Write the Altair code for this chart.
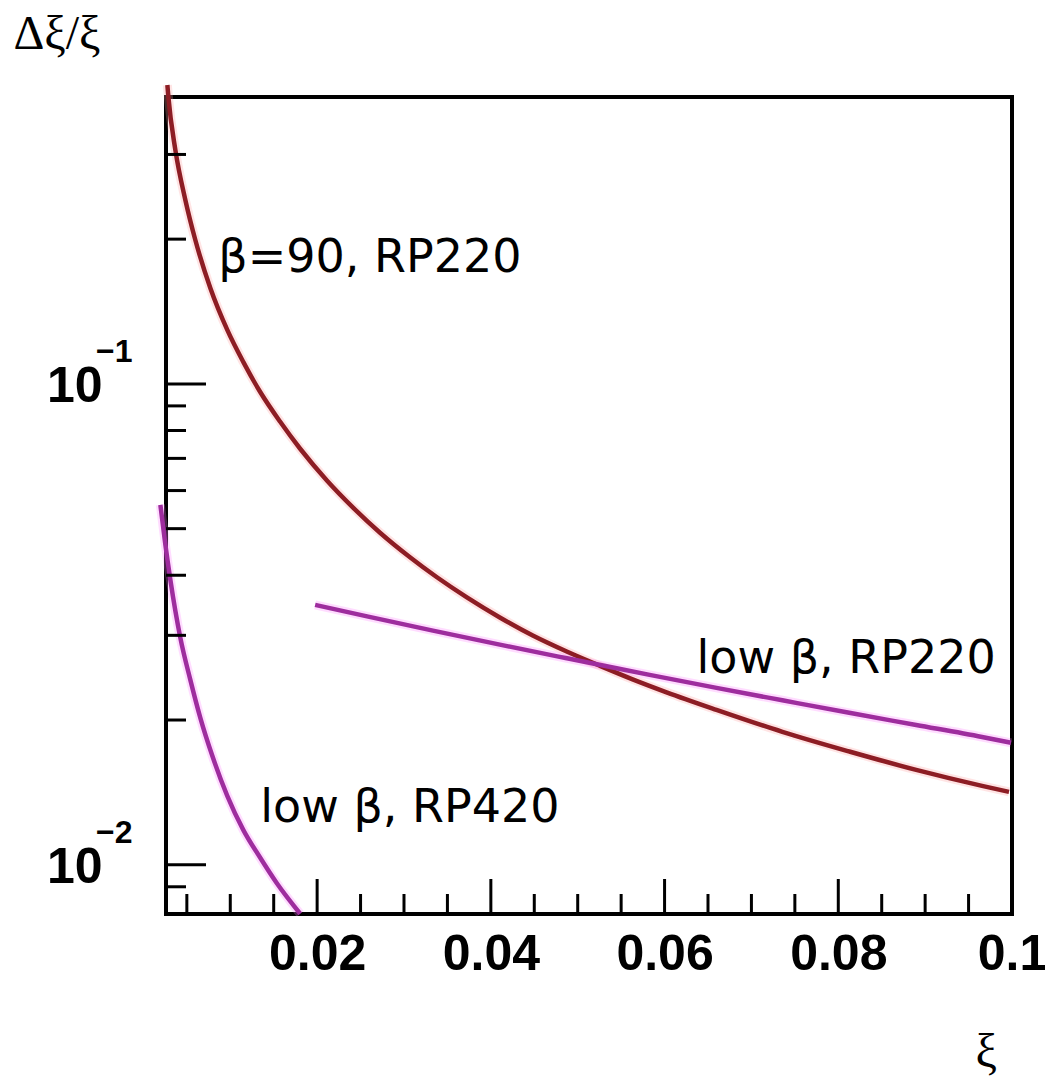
import altair as alt
import pandas as pd

# ---- data ----
red_x = [0.002759, 0.002874, 0.003678, 0.004828, 0.005977, 0.007701, 0.009655, 0.011494,
         0.013448, 0.015747, 0.018046, 0.021149, 0.024137, 0.027241, 0.030689, 0.033793,
         0.037241, 0.041034, 0.044827, 0.048735, 0.052528, 0.056321, 0.060229, 0.065976,
         0.073562, 0.081264, 0.088965, 0.096551, 0.099654]
red_y = [0.4183, 0.3951, 0.3065, 0.2413, 0.1992, 0.1583, 0.1295, 0.1111,
         0.0962, 0.0834, 0.0733, 0.0629, 0.0553, 0.04904, 0.04360, 0.03962,
         0.03598, 0.03268, 0.02997, 0.02776, 0.02594, 0.02430, 0.02284, 0.0210,
         0.0189, 0.0172, 0.01575, 0.01459, 0.01418]

mag220_x = [0.01977, 0.02575, 0.03333, 0.04103, 0.04874, 0.05448, 0.05828, 0.06598,
            0.07356, 0.08126, 0.08897, 0.09655, 0.09989]
mag220_y = [0.03471, 0.03285, 0.03069, 0.02869, 0.02688, 0.02562, 0.02483, 0.02333,
            0.02198, 0.02070, 0.01953, 0.01844, 0.01793]

mag420_x = [0.001954, 0.002529, 0.003103, 0.003678, 0.004253, 0.005402, 0.006552,
            0.007931, 0.009655, 0.011494, 0.013448, 0.015402, 0.018046]
mag420_y = [0.05603, 0.04627, 0.03914, 0.03373, 0.02964, 0.02424, 0.02021,
            0.01685, 0.01391, 0.01182, 0.01034, 0.00913, 0.00791]

label_text = ["β=90, RP220", "low β, RP220", "low β, RP420"]
label_x = [0.00862, 0.06368, 0.01345]
label_y = [0.171, 0.02507, 0.01228]

x_major = [0.02, 0.04, 0.06, 0.08]
x_minor = [0.005, 0.01, 0.015, 0.025, 0.03, 0.035, 0.045, 0.05, 0.055,
           0.065, 0.07, 0.075, 0.085, 0.09, 0.095]
x_labels = [0.02, 0.04, 0.06, 0.08, 0.1]
y_major = [0.1, 0.01]
y_minor = [0.009, 0.02, 0.03, 0.04, 0.05, 0.06, 0.07, 0.08, 0.09, 0.2, 0.3]
y_sup = ["−1", "−2"]

W, H = 846, 817

curves = pd.DataFrame(
    [{"x": a, "y": b, "curve": "red"} for a, b in zip(red_x, red_y)]
    + [{"x": a, "y": b, "curve": "m220"} for a, b in zip(mag220_x, mag220_y)]
    + [{"x": a, "y": b, "curve": "m420"} for a, b in zip(mag420_x, mag420_y)]
)
curves["order"] = range(len(curves))

xs = alt.Scale(domain=[0.0026, 0.1], nice=False, zero=False)
ys = alt.Scale(type="log", domain=[0.0079, 0.395], nice=False)
cscale_core = alt.Scale(domain=["red", "m220", "m420"], range=["#8d1d24", "#9e2d9e", "#9e2d9e"])
cscale_halo = alt.Scale(domain=["red", "m220", "m420"], range=["#ff9f9f", "#ff80ff", "#ff80ff"])

base = alt.Chart(curves)

halo = base.mark_line(strokeWidth=9, opacity=0.28, interpolate="monotone").encode(
    x=alt.X("x:Q", scale=xs,
            axis=alt.Axis(values=x_labels, format=".2~f", ticks=False, domain=False, grid=False,
                          labelFont="Liberation Sans", labelFontWeight="bold", labelFontSize=50,
                          labelColor="black", labelPadding=15, labelFlush=False,
                          title="ξ", titleFont="Liberation Serif", titleFontSize=48,
                          titleFontWeight="normal", titleColor="black", titleAnchor="start",
                          titleAlign="left", titleBaseline="alphabetic",
                          titleX=809, titleY=152)),
    y=alt.Y("y:Q", scale=ys,
            axis=alt.Axis(values=y_major, labelExpr="'10'", ticks=False, domain=False, grid=False,
                          labelFont="Liberation Sans", labelFontWeight="bold", labelFontSize=50,
                          labelColor="black", labelPadding=64, labelBaseline="middle",
                          labelOffset=3,
                          title="Δξ/ξ", titleFont="Liberation Serif", titleFontSize=48,
                          titleFontWeight="normal", titleColor="black", titleAngle=0,
                          titleAlign="left", titleBaseline="alphabetic",
                          titleX=-153, titleY=-49)),
    color=alt.Color("curve:N", scale=cscale_halo, legend=None),
    detail="curve:N",
    order="order:Q",
)

core = base.mark_line(strokeWidth=4.5, interpolate="monotone").encode(
    x=alt.X("x:Q", scale=xs),
    y=alt.Y("y:Q", scale=ys),
    color=alt.Color("curve:N", scale=cscale_core, legend=None),
    detail="curve:N",
    order="order:Q",
)

lines = alt.layer(halo, core).resolve_scale(color="independent")

labels = alt.Chart(pd.DataFrame({"t": label_text, "x": label_x, "y": label_y})).mark_text(
    font="DejaVu Sans", fontSize=46, align="left", baseline="alphabetic", color="black"
).encode(x=alt.X("x:Q", scale=xs), y=alt.Y("y:Q", scale=ys), text="t:N")

xmaj = alt.Chart(pd.DataFrame({"v": x_major})).mark_rule(color="black", strokeWidth=3).encode(
    x=alt.X("v:Q", scale=xs), y=alt.value(H), y2=alt.value(H - 35))
xmin = alt.Chart(pd.DataFrame({"v": x_minor})).mark_rule(color="black", strokeWidth=3).encode(
    x=alt.X("v:Q", scale=xs), y=alt.value(H), y2=alt.value(H - 20))
ymaj = alt.Chart(pd.DataFrame({"v": y_major})).mark_rule(color="black", strokeWidth=3).encode(
    y=alt.Y("v:Q", scale=ys), x=alt.value(0), x2=alt.value(40))
ymin = alt.Chart(pd.DataFrame({"v": y_minor})).mark_rule(color="black", strokeWidth=3).encode(
    y=alt.Y("v:Q", scale=ys), x=alt.value(0), x2=alt.value(20))

sup = alt.Chart(pd.DataFrame({"v": y_major, "t": y_sup})).mark_text(
    font="Liberation Sans", fontWeight="bold", fontSize=32, align="left",
    baseline="alphabetic", color="black", dy=-22
).encode(y=alt.Y("v:Q", scale=ys), x=alt.value(-70), text="t:N")

chart = alt.layer(lines, xmaj, xmin, ymaj, ymin, labels, sup).resolve_scale(
    color="independent"
).properties(
    width=W, height=H,
    padding={"left": 166, "top": 97, "right": 33, "bottom": 166},
    autosize=alt.AutoSizeParams(type="none"),
    background="white",
).configure_view(stroke="black", strokeWidth=4)

chart.save("out.html", embed_options={"renderer": "svg", "actions": False})
